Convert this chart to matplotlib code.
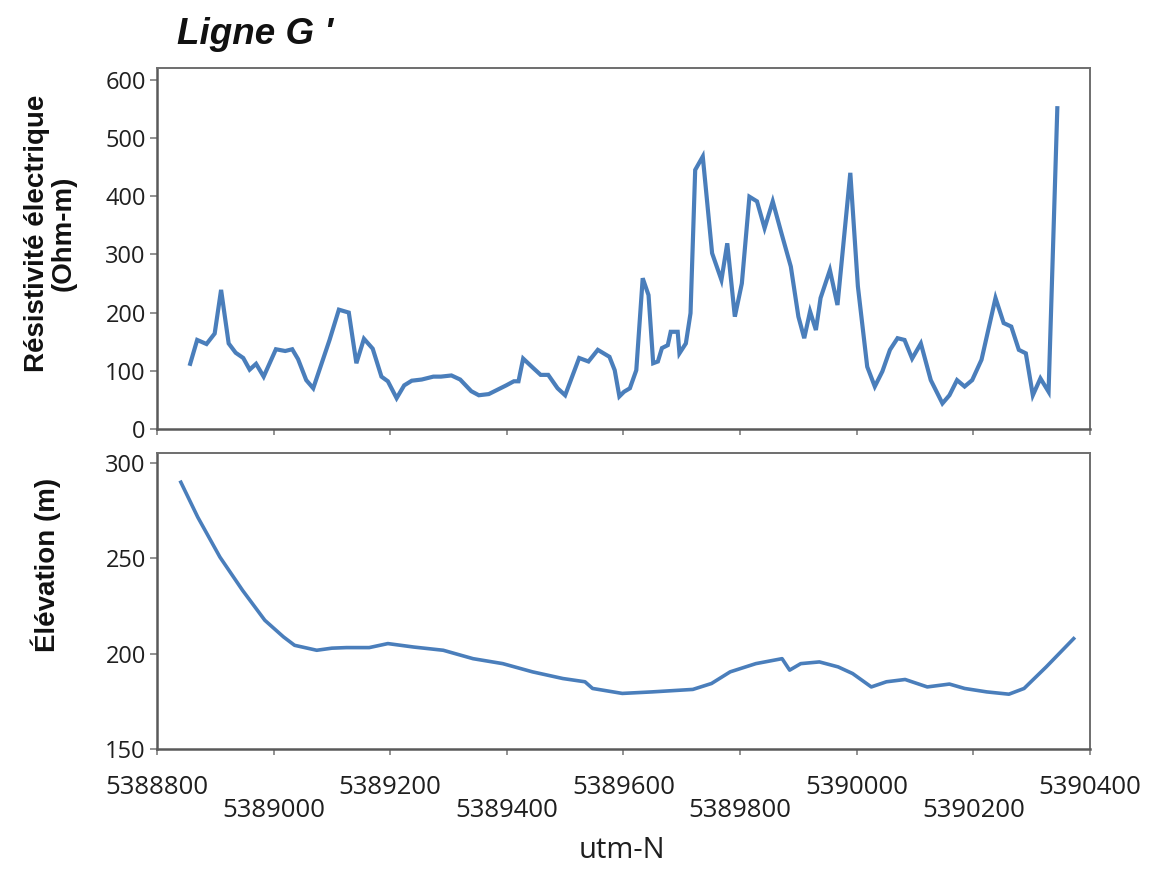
import matplotlib
matplotlib.use('Agg')
import matplotlib.pyplot as plt

matplotlib.rcParams['font.family'] = ['Open Sans', 'DejaVu Sans']

# ── Data ──────────────────────────────────────────────────────────────────────
res_x = [5388857, 5388869, 5388885, 5388899, 5388910, 5388923, 5388935, 5388948,
         5388959, 5388970, 5388983, 5389004, 5389020, 5389032, 5389042, 5389056,
         5389068, 5389096, 5389112, 5389129, 5389142, 5389155, 5389170, 5389185,
         5389196, 5389211, 5389224, 5389237, 5389254, 5389274, 5389287, 5389305,
         5389320, 5389339, 5389352, 5389369, 5389385, 5389399, 5389412, 5389420,
         5389428, 5389445, 5389458, 5389471, 5389487, 5389500, 5389524, 5389540,
         5389556, 5389576, 5389585, 5389593, 5389601, 5389611, 5389622, 5389633,
         5389643, 5389651, 5389659, 5389666, 5389676, 5389681, 5389693, 5389696,
         5389707, 5389715, 5389723, 5389736, 5389752, 5389768, 5389778, 5389791,
         5389803, 5389816, 5389829, 5389842, 5389856, 5389871, 5389887, 5389900,
         5389910, 5389920, 5389930, 5389938, 5389954, 5389967, 5389989, 5390002,
         5390018, 5390031, 5390044, 5390057, 5390070, 5390082, 5390095, 5390110,
         5390127, 5390147, 5390159, 5390172, 5390185, 5390198, 5390214, 5390238,
         5390252, 5390265, 5390278, 5390290, 5390302, 5390315, 5390329, 5390344]
res_val = [112, 153, 146, 164, 239, 147, 131, 122,
           102, 112, 90, 137, 134, 137, 120, 84,
           70, 153, 205, 200, 113, 155, 138, 90,
           82, 53, 75, 83, 85, 90, 90, 92,
           85, 65, 58, 60, 68, 75, 82, 82,
           121, 105, 93, 93, 70, 58, 122, 116,
           136, 124, 101, 56, 64, 70, 101, 259,
           230, 113, 116, 139, 144, 167, 167, 130,
           147, 199, 445, 468, 302, 256, 319, 193,
           250, 399, 391, 345, 391, 336, 279, 193,
           156, 202, 170, 225, 273, 213, 440, 245,
           107, 73, 99, 136, 156, 153, 121, 147,
           84, 44, 58, 84, 73, 84, 119, 225,
           182, 176, 136, 130, 58, 87, 64, 551]

elev_x = [5388841, 5388870, 5388908, 5388947, 5388985, 5389017, 5389036, 5389074,
          5389100, 5389125, 5389164, 5389196, 5389240, 5389291, 5389342, 5389393,
          5389444, 5389496, 5389534, 5389547, 5389598, 5389649, 5389719, 5389751,
          5389783, 5389827, 5389872, 5389885, 5389904, 5389936, 5389968, 5389993,
          5390025, 5390051, 5390083, 5390121, 5390159, 5390185, 5390223, 5390261,
          5390287, 5390325, 5390372]
elev_val = [289.7, 271.4, 250.5, 233.0, 217.4, 208.7, 204.3, 201.7,
            202.8, 203.1, 203.1, 205.2, 203.4, 201.7, 197.3, 194.7,
            190.4, 186.9, 185.2, 181.7, 179.1, 179.9, 181.2, 184.3,
            190.4, 194.7, 197.3, 191.3, 194.7, 195.6, 193.0, 189.5,
            182.5, 185.2, 186.4, 182.5, 184.0, 181.7, 179.9, 178.7,
            181.7, 193.0, 207.8]

x_ticks = [5388800, 5389000, 5389200, 5389400, 5389600, 5389800,
           5390000, 5390200, 5390400]
res_ticks = [0, 100, 200, 300, 400, 500, 600]
elev_ticks = [150, 200, 250, 300]

LINE = '#4A7EBB'
SPINE = '#5A5A5A'
TXT = '#1F1F1F'

fig = plt.figure(figsize=(11.66, 8.69), dpi=100)
fig.patch.set_facecolor('white')

ax1 = fig.add_axes([0.1346, 0.5063, 0.8002, 0.4154])
ax2 = fig.add_axes([0.1346, 0.1381, 0.8002, 0.3406])

ax1.plot(res_x, res_val, color=LINE, lw=3.0, solid_joinstyle='miter')
ax2.plot(elev_x, elev_val, color=LINE, lw=2.6)

for ax in (ax1, ax2):
    ax.set_xlim(5388800, 5390400)
    ax.set_xticks(x_ticks)
    for side in ('left', 'bottom'):
        ax.spines[side].set_color(SPINE)
        ax.spines[side].set_linewidth(1.8)
    for side in ('top', 'right'):
        ax.spines[side].set_color('#6E6E6E')
        ax.spines[side].set_linewidth(1.4)
    ax.tick_params(axis='both', direction='out', color='#7F7F7F', width=1.2,
                   labelcolor=TXT)
    ax.tick_params(axis='y', length=5, pad=3, labelsize=17)
    ax.tick_params(axis='x', length=4)

ax1.set_ylim(0, 620)
ax1.set_yticks(res_ticks)
ax1.tick_params(axis='x', labelbottom=False)

ax2.set_ylim(150, 305)
ax2.set_yticks(elev_ticks)
ax2.set_xticklabels([str(v) for v in x_ticks], fontsize=18.5)
# staggered tick labels, like the spreadsheet original
for i, tick in enumerate(ax2.xaxis.get_major_ticks()):
    tick.set_pad(15 if i % 2 == 0 else 31)

# ── Titles and labels ─────────────────────────────────────────────────────────
fig.text(0.1518, 0.9494, "Ligne G '", fontsize=26.5, fontweight='bold',
         style='italic', family='Liberation Sans', color='#111111',
         ha='left', va='baseline')

fig.text(0.043, 1 - 233 / 869, 'Résistivité électrique\n(Ohm-m)',
         rotation=90, ha='center', va='center', multialignment='center',
         fontsize=20, fontweight='bold', family='Liberation Sans',
         color='#111111', linespacing=1.05)
fig.text(0.039, 1 - 565 / 869, 'Élévation (m)', rotation=90,
         ha='center', va='center', fontsize=20, fontweight='bold',
         family='Liberation Sans', color='#111111')

fig.text(622 / 1166, 1 - 850 / 869, 'utm-N', ha='center', va='center',
         fontsize=21, color=TXT)

fig.savefig('out.png', dpi=100, facecolor='white')
